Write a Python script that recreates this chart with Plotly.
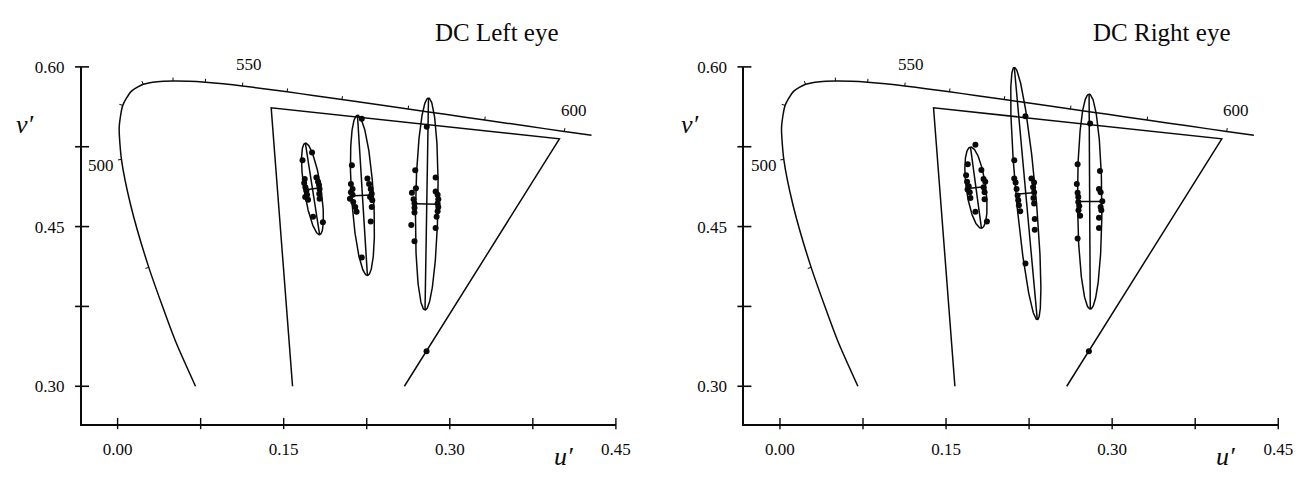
import numpy as np
import plotly.graph_objects as go

# ---------------------------------------------------------------------------
# CIE 1931 2-degree spectral chromaticities (x, y), 480-605 nm, 5 nm steps
# ---------------------------------------------------------------------------
wavelengths = [480, 485, 490, 495, 500, 505, 510, 515, 520, 525, 530, 535, 540,
               545, 550, 555, 560, 565, 570, 575, 580, 585, 590, 595, 600, 605]
cie_x = [0.0913, 0.0687, 0.0454, 0.0235, 0.0082, 0.0039, 0.0139, 0.0389, 0.0743,
         0.1142, 0.1547, 0.1929, 0.2296, 0.2658, 0.3016, 0.3373, 0.3731, 0.4087,
         0.4441, 0.4788, 0.5125, 0.5448, 0.5752, 0.6029, 0.6270, 0.6482]
cie_y = [0.1327, 0.2007, 0.2950, 0.4127, 0.5384, 0.6548, 0.7502, 0.8120, 0.8338,
         0.8262, 0.8059, 0.7816, 0.7543, 0.7243, 0.6923, 0.6589, 0.6245, 0.5896,
         0.5547, 0.5202, 0.4866, 0.4544, 0.4242, 0.3965, 0.3725, 0.3514]
tick_wavelengths = [490, 500, 510, 520, 530, 540, 550, 560, 570, 580, 590, 600]
label_wavelengths = ["500", "550", "600"]
label_u = [-0.0146, 0.1185, 0.412]
label_v = [0.507, 0.602, 0.559]
locus_v_min = 0.30
locus_u_max = 0.428

# Monitor primaries (u', v')
primary_names = ["R", "G", "B"]
primary_u = [0.399, 0.1387, 0.169]
primary_v = [0.5324, 0.5616, 0.1506]

# Discrimination ellipses: centre, semi-axes, orientation, centre bar half-width
left_center_u = [0.1760, 0.2211, 0.2792]
left_center_v = [0.4854, 0.4793, 0.4712]
left_semi_major = [0.0435, 0.0754, 0.0996]
left_semi_minor = [0.0076, 0.0099, 0.0101]
left_angle_deg = [98.5, 93.4, 89.1]
left_bar_half = [0.0053, 0.0075, 0.0097]

right_center_u = [0.1770, 0.2220, 0.2797]
right_center_v = [0.4866, 0.4811, 0.4735]
right_semi_major = [0.0384, 0.1190, 0.1010]
right_semi_minor = [0.0088, 0.0089, 0.0110]
right_angle_deg = [97.4, 95.0, 90.3]
right_bar_half = [0.0052, 0.0065, 0.0100]

# Individual settings, left eye
left_pts1_u = [0.1670, 0.1756, 0.1690, 0.1685, 0.1696, 0.1705, 0.1694, 0.1711, 0.1720,
               0.1795, 0.1810, 0.1819, 0.1824, 0.1821, 0.1824, 0.1765, 0.1854]
left_pts1_v = [0.5122, 0.5195, 0.4947, 0.4910, 0.4870, 0.4839, 0.4777, 0.4799, 0.4753,
               0.4961, 0.4922, 0.4891, 0.4854, 0.4808, 0.4762, 0.4593, 0.4541]
left_pts2_u = [0.2116, 0.2107, 0.2122, 0.2107, 0.2122, 0.2098, 0.2128, 0.2146, 0.2158,
               0.2256, 0.2271, 0.2286, 0.2295, 0.2280, 0.2300, 0.2295, 0.2286, 0.2205,
               0.2205]
left_pts2_v = [0.5076, 0.4900, 0.4854, 0.4823, 0.4799, 0.4762, 0.4731, 0.4685, 0.4639,
               0.4952, 0.4900, 0.4854, 0.4808, 0.4777, 0.4747, 0.4685, 0.4547, 0.4209,
               0.5514]
left_pts3_u = [0.2688, 0.2694, 0.2658, 0.2673, 0.2681, 0.2681, 0.2681, 0.2652, 0.2681,
               0.2872, 0.2872, 0.2890, 0.2896, 0.2890, 0.2896, 0.2890, 0.2881, 0.2872,
               0.2792]
left_pts3_v = [0.5029, 0.4860, 0.4817, 0.4756, 0.4716, 0.4676, 0.4633, 0.4516, 0.4362,
               0.4961, 0.4829, 0.4799, 0.4756, 0.4716, 0.4685, 0.4645, 0.4593, 0.4486,
               0.5438]

# Individual settings, right eye
right_pts1_u = [0.1765, 0.1696, 0.1681, 0.1690, 0.1705, 0.1694, 0.1714, 0.1720,
                0.1819, 0.1839, 0.1854, 0.1839, 0.1848, 0.1848, 0.1765, 0.1869]
right_pts1_v = [0.5269, 0.5085, 0.4983, 0.4922, 0.4878, 0.4848, 0.4823, 0.4768,
                0.5032, 0.4947, 0.4922, 0.4869, 0.4823, 0.4756, 0.4639, 0.4547]
right_pts2_u = [0.2217, 0.2116, 0.2116, 0.2128, 0.2137, 0.2146, 0.2152, 0.2158, 0.2170,
                0.2271, 0.2295, 0.2286, 0.2295, 0.2289, 0.2295, 0.2301, 0.2301, 0.2217]
right_pts2_v = [0.5536, 0.5124, 0.4952, 0.4915, 0.4854, 0.4793, 0.4747, 0.4700, 0.4645,
                0.4952, 0.4915, 0.4869, 0.4823, 0.4768, 0.4716, 0.4571, 0.4470, 0.4154]
right_pts3_u = [0.2801, 0.2688, 0.2681, 0.2688, 0.2694, 0.2694, 0.2703, 0.2696, 0.2711,
                0.2688, 0.2890, 0.2881, 0.2896, 0.2911, 0.2896, 0.2902, 0.2881, 0.2881]
right_pts3_v = [0.5468, 0.5085, 0.4900, 0.4817, 0.4777, 0.4731, 0.4694, 0.4654, 0.4602,
                0.4387, 0.5023, 0.4854, 0.4823, 0.4737, 0.4685, 0.4654, 0.4583, 0.4486]

# Single setting lying on the R-B gamut edge (both eyes)
edge_point_u = [0.279]
edge_point_v = [0.333]

panel_titles = ["DC Left eye", "DC Right eye"]
u_ticks = [0.0, 0.075, 0.15, 0.225, 0.30, 0.375, 0.45]
u_tick_text = ["0.00", "", "0.15", "", "0.30", "", "0.45"]
v_ticks = [0.30, 0.375, 0.45, 0.525, 0.60]
v_tick_text = ["0.30", "", "0.45", "", "0.60"]
u_range = [-0.0321, 0.45]
v_range = [0.265, 0.60]

INK = "#0a0a0a"
SERIF = "Liberation Serif, Times New Roman, serif"


def xy_to_uv(x, y):
    x = np.asarray(x, float)
    y = np.asarray(y, float)
    d = -2 * x + 12 * y + 3
    return 4 * x / d, 9 * y / d


def locus_path():
    u, v = xy_to_uv(cie_x, cie_y)
    # entry point where the locus rises through v' = locus_v_min
    i = int(np.nonzero(v >= locus_v_min)[0][0])
    t = (locus_v_min - v[i - 1]) / (v[i] - v[i - 1])
    start = (u[i - 1] + t * (u[i] - u[i - 1]), locus_v_min)
    # exit point where the locus passes u' = locus_u_max
    j = int(np.nonzero(u > locus_u_max)[0][0])
    s = (locus_u_max - u[j - 1]) / (u[j] - u[j - 1])
    end = (locus_u_max, v[j - 1] + s * (v[j] - v[j - 1]))
    pu = [start[0]] + list(u[i:j]) + [end[0]]
    pv = [start[1]] + list(v[i:j]) + [end[1]]
    return pu, pv, u, v


def locus_ticks(u, v, length=0.0032):
    tu, tv = [], []
    wl = np.array(wavelengths)
    for w in tick_wavelengths:
        k = int(np.nonzero(wl == w)[0][0])
        du = u[k + 1] - u[k - 1]
        dv = v[k + 1] - v[k - 1]
        n = np.hypot(du, dv)
        nu, nv = -dv / n, du / n  # outward normal
        tu += [u[k], u[k] + length * nu, None]
        tv += [v[k], v[k] + length * nv, None]
    return tu, tv


def gamut_path():
    R = (primary_u[0], primary_v[0])
    G = (primary_u[1], primary_v[1])
    B = (primary_u[2], primary_v[2])

    def cut(p, q):
        t = (locus_v_min - p[1]) / (q[1] - p[1])
        return (p[0] + t * (q[0] - p[0]), locus_v_min)

    pts = [cut(B, G), G, R, cut(B, R)]
    return [p[0] for p in pts], [p[1] for p in pts]


def ellipse_paths(cu, cv, a, b, ang, bar):
    th = np.radians(ang)
    t = np.linspace(0, 2 * np.pi, 241)
    eu = cu + a * np.cos(th) * np.cos(t) - b * np.sin(th) * np.sin(t)
    ev = cv + a * np.sin(th) * np.cos(t) + b * np.cos(th) * np.sin(t)
    major_u = [cu - a * np.cos(th), cu + a * np.cos(th)]
    major_v = [cv - a * np.sin(th), cv + a * np.sin(th)]
    bar_u = [cu + bar * np.sin(th), cu - bar * np.sin(th)]
    bar_v = [cv - bar * np.cos(th), cv + bar * np.cos(th)]
    return (list(eu), list(ev)), (major_u, major_v), (bar_u, bar_v)


fig = go.Figure()

lu, lv, all_u, all_v = locus_path()
ltu, ltv = locus_ticks(all_u, all_v)
gu, gv = gamut_path()

panels = [
    dict(xa="x", ya="y",
         ell=(left_center_u, left_center_v, left_semi_major, left_semi_minor,
              left_angle_deg, left_bar_half),
         pts=[(left_pts1_u, left_pts1_v), (left_pts2_u, left_pts2_v),
              (left_pts3_u, left_pts3_v), (edge_point_u, edge_point_v)]),
    dict(xa="x2", ya="y2",
         ell=(right_center_u, right_center_v, right_semi_major, right_semi_minor,
              right_angle_deg, right_bar_half),
         pts=[(right_pts1_u, right_pts1_v), (right_pts2_u, right_pts2_v),
              (right_pts3_u, right_pts3_v), (edge_point_u, edge_point_v)]),
]

line_style = dict(color=INK, width=1.5)

for p in panels:
    ax = dict(xaxis=p["xa"], yaxis=p["ya"], showlegend=False, hoverinfo="skip")
    # spectrum locus and its 10 nm ticks
    fig.add_trace(go.Scatter(x=lu, y=lv, mode="lines",
                             line=dict(color=INK, width=1.5, shape="spline",
                                       smoothing=0.6), **ax))
    fig.add_trace(go.Scatter(x=ltu, y=ltv, mode="lines",
                             line=dict(color=INK, width=1), **ax))
    # monitor gamut
    fig.add_trace(go.Scatter(x=gu, y=gv, mode="lines", line=line_style, **ax))
    # ellipses with their axes
    cu, cv, a, b, ang, bar = p["ell"]
    for k in range(len(cu)):
        (eu, ev), (mu, mv), (bu, bv) = ellipse_paths(cu[k], cv[k], a[k], b[k],
                                                     ang[k], bar[k])
        fig.add_trace(go.Scatter(x=eu, y=ev, mode="lines", line=line_style, **ax))
        fig.add_trace(go.Scatter(x=mu, y=mv, mode="lines", line=line_style, **ax))
        fig.add_trace(go.Scatter(x=bu, y=bv, mode="lines", line=line_style, **ax))
    # individual settings
    for (pu, pv) in p["pts"]:
        fig.add_trace(go.Scatter(x=pu, y=pv, mode="markers",
                                 marker=dict(color=INK, size=6), **ax))
    # axis ticks crossing the axis lines
    fig.add_trace(go.Scatter(x=u_ticks, y=[v_range[0]] * len(u_ticks), mode="markers",
                             marker=dict(symbol="line-ns", size=8,
                                         line=dict(color=INK, width=1.4)),
                             cliponaxis=False, **ax))
    fig.add_trace(go.Scatter(x=[u_range[0]] * len(v_ticks), y=v_ticks, mode="markers",
                             marker=dict(symbol="line-ew", size=10,
                                         line=dict(color=INK, width=1.6)),
                             cliponaxis=False, **ax))
    # wavelength labels (vertical position in axis-domain units so the
    # label above the top of the range stays visible)
    for txt, tu, tv in zip(label_wavelengths, label_u, label_v):
        fig.add_annotation(x=tu, xref=p["xa"],
                           y=(tv - v_range[0]) / (v_range[1] - v_range[0]),
                           yref=p["ya"] + " domain", text=txt, showarrow=False,
                           xanchor="center", yanchor="middle",
                           font=dict(family=SERIF, size=17, color=INK))

W, H = 1315, 477
left_dom = [83 / W, 623 / W]
right_dom = [753 / W, 1293 / W]
v_dom = [(H - 422.5) / H, (H - 59) / H]

xcommon = dict(range=u_range, showgrid=False, zeroline=False, showline=True,
               linecolor=INK, linewidth=2.2, ticks="", tickvals=u_ticks,
               ticktext=u_tick_text, ticklabelstandoff=9,
               tickfont=dict(family=SERIF, size=17, color=INK))
ycommon = dict(range=v_range, showgrid=False, zeroline=False, showline=True,
               linecolor=INK, linewidth=2.2, ticks="", tickvals=v_ticks,
               ticktext=v_tick_text, ticklabelstandoff=12,
               tickfont=dict(family=SERIF, size=17, color=INK))

fig.update_layout(
    width=W, height=H,
    margin=dict(l=0, r=0, t=0, b=0),
    paper_bgcolor="white", plot_bgcolor="white",
    xaxis=dict(domain=left_dom, anchor="y", **xcommon),
    yaxis=dict(domain=v_dom, anchor="x", **ycommon),
    xaxis2=dict(domain=right_dom, anchor="y2", **xcommon),
    yaxis2=dict(domain=v_dom, anchor="x2", **ycommon),
)


def paper_text(px, py, text, size):
    fig.add_annotation(x=px / W, y=(H - py) / H, xref="paper", yref="paper",
                       text=text, showarrow=False, xanchor="center",
                       yanchor="middle",
                       font=dict(family=SERIF, size=size, color=INK))


# panel titles and axis symbols
for title, tx, vx, ux in zip(panel_titles, [503, 1175], [25, 698], [570, 1240]):
    paper_text(tx, 24, title, 25)
    paper_text(vx, 118, "<i>v′</i>", 26)
    paper_text(ux, 456, "<i>u′</i>", 26)

fig.write_html("out.html")
